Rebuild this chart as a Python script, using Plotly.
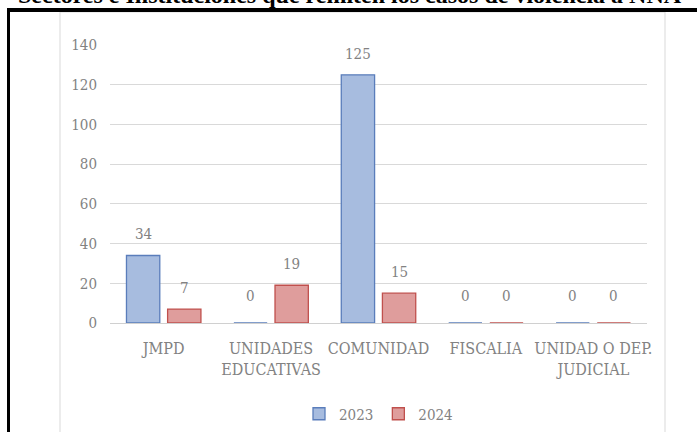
import plotly.graph_objects as go

categories = ["JMPD", "UNIDADES<br>EDUCATIVAS", "COMUNIDAD", "FISCALIA", "UNIDAD O DEP.<br>JUDICIAL"]
values_2023 = [34, 0, 125, 0, 0]
values_2024 = [7, 19, 15, 0, 0]
series_names = ["2023", "2024"]
y_ticks = [0, 20, 40, 60, 80, 100, 120, 140]
title_text = "Sectores e Instituciones que remiten los casos de violencia a NNA"

FONT = "DejaVu Serif Condensed, Liberation Serif, serif"
GRAY = "#828282"

# plot area in pixels
W, H = 697, 432
L, R, T, B = 110, 50, 45, 109
pw, ph = W - L - R, H - T - B

def px_x(p):
    return (p - L) / pw

def px_y(p):
    return (H - B - p) / ph

fig = go.Figure()
fig.add_trace(go.Bar(
    x=categories, y=values_2023, name=series_names[0],
    marker=dict(color="#a7bcdf", line=dict(color="#5a7dbb", width=1.3)),
))
fig.add_trace(go.Bar(
    x=categories, y=values_2024, name=series_names[1],
    marker=dict(color="#df9d9c", line=dict(color="#c0504d", width=1.3)),
))

annotations = []
for vals, shift in ((values_2023, -20.5), (values_2024, 20.5)):
    for c, v in zip(categories, vals):
        annotations.append(dict(
            x=c, y=v, xref="x", yref="y", text=str(v), showarrow=False,
            xshift=shift, yshift=(27 if v == 0 else 21), yanchor="middle",
            font=dict(family=FONT, size=15, color=GRAY),
        ))

# clipped caption at the very top (cut off in the reference too)
annotations.append(dict(
    x=px_x(350), y=px_y(-5), xref="paper", yref="paper", text="<b>" + title_text + "</b>",
    showarrow=False, xanchor="center", yanchor="middle",
    font=dict(family="Liberation Serif, serif", size=24, color="#000000"),
))

shapes = [
    # light gray panel
    dict(type="rect", xref="paper", yref="paper",
         x0=px_x(60), x1=px_x(665), y0=px_y(440), y1=px_y(12),
         line=dict(color="#d9d9d9", width=1), fillcolor="rgba(0,0,0,0)", layer="below"),
    # black frame: top and left
    dict(type="line", xref="paper", yref="paper",
         x0=px_x(7), x1=px_x(700), y0=px_y(10), y1=px_y(10),
         line=dict(color="#000000", width=4)),
    dict(type="line", xref="paper", yref="paper",
         x0=px_x(8.5), x1=px_x(8.5), y0=px_y(8), y1=px_y(440),
         line=dict(color="#000000", width=3)),
]

fig.update_layout(
    width=W, height=H,
    margin=dict(l=L, r=R, t=T, b=B, autoexpand=False),
    paper_bgcolor="white", plot_bgcolor="white",
    barmode="group", bargap=0.234, bargroupgap=0.19,
    font=dict(family=FONT, size=15, color=GRAY),
    showlegend=True,
    legend=dict(orientation="h", x=0.5, xanchor="center",
                yref="container", y=(H - 414) / H, yanchor="middle",
                font=dict(family=FONT, size=15, color=GRAY), itemwidth=30,
                traceorder="normal"),
    annotations=annotations,
    shapes=shapes,
)
fig.update_xaxes(showgrid=False, showline=False, ticks="", ticklabelstandoff=14,
                 automargin=False,
                 tickfont=dict(family=FONT, size=16, color=GRAY))
fig.update_yaxes(range=[0, 140], tickvals=y_ticks, showgrid=True, gridcolor="#d9d9d9",
                 gridwidth=1, zeroline=True, zerolinecolor="#d0d0d0", zerolinewidth=1,
                 showline=False, ticks="", ticklabelstandoff=12, automargin=False,
                 tickfont=dict(family=FONT, size=15, color=GRAY))

fig.write_html("out.html", config={"displayModeBar": False},
               post_script="document.body.style.margin='0';")
